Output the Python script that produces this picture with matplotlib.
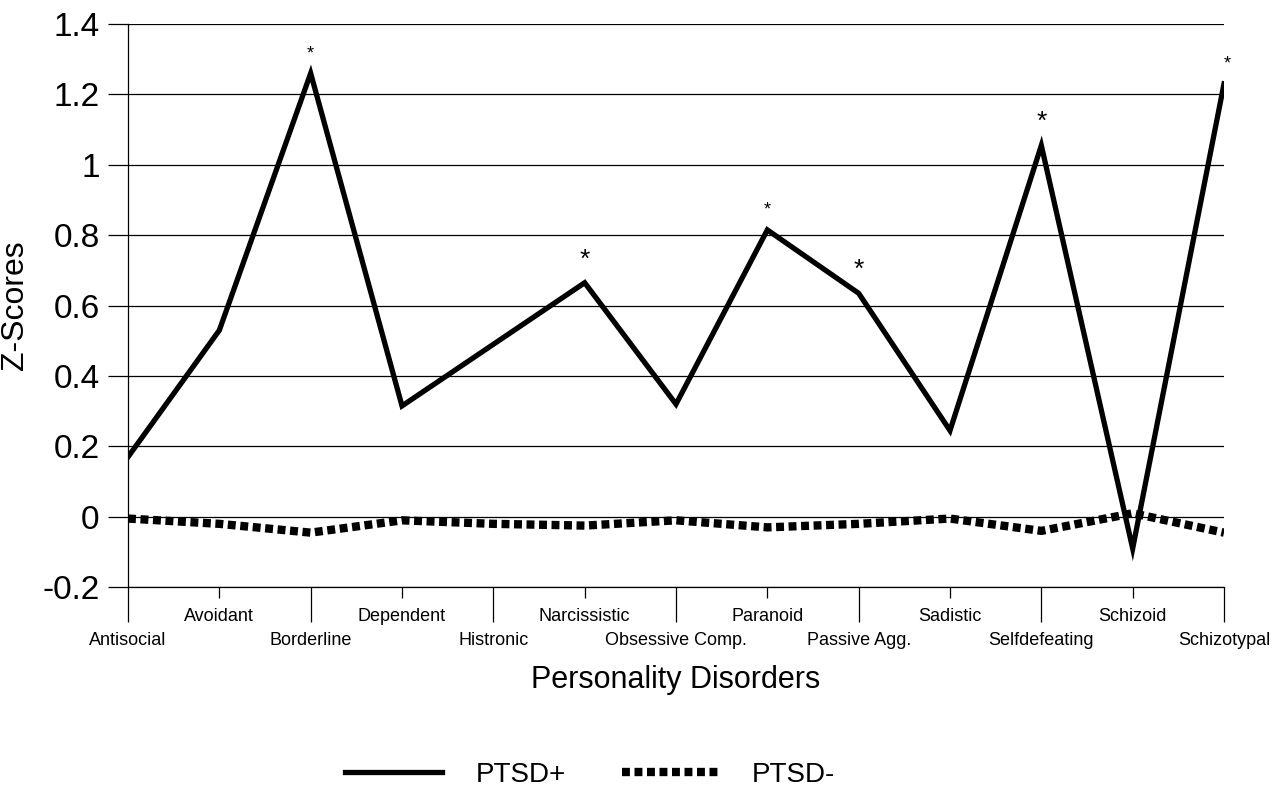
import matplotlib
matplotlib.use('Agg')
import matplotlib.pyplot as plt
from matplotlib.lines import Line2D
from matplotlib.font_manager import fontManager

# Data
disorders = ['Antisocial', 'Avoidant', 'Borderline', 'Dependent', 'Histronic',
             'Narcissistic', 'Obsessive Comp.', 'Paranoid', 'Passive Agg.',
             'Sadistic', 'Selfdefeating', 'Schizoid', 'Schizotypal']
ptsd_pos = [0.17, 0.53, 1.26, 0.315, 0.49, 0.665, 0.32, 0.815, 0.635,
            0.245, 1.055, -0.09, 1.23]
ptsd_neg = [-0.005, -0.02, -0.045, -0.01, -0.02, -0.025, -0.01, -0.03, -0.02,
            -0.005, -0.04, 0.01, -0.045]
significant = [2, 5, 7, 8, 10, 12]
star_sizes = [13, 19, 13, 19, 19, 13]
y_ticks = [-0.2, 0, 0.2, 0.4, 0.6, 0.8, 1, 1.2, 1.4]

names = {f.name for f in fontManager.ttflist}
narrow = 'Liberation Sans Narrow' if 'Liberation Sans Narrow' in names else 'Liberation Sans'
plt.rcParams['font.family'] = [narrow, 'DejaVu Sans']
plt.rcParams['axes.unicode_minus'] = False

fig = plt.figure(figsize=(12.75, 8), dpi=100)
ax = fig.add_axes([0.1004, 0.266, 0.8596, 0.704])

x = list(range(len(disorders)))
ax.plot(x, ptsd_pos, color='black', lw=3.8, solid_joinstyle='miter', zorder=3)
ax.plot(x, ptsd_neg, color='black', lw=6.0, dashes=(0.95, 0.55),
        dash_capstyle='butt', zorder=3)

for i, s in zip(significant, star_sizes):
    ax.annotate('*', (x[i], ptsd_pos[i]), xytext=(2 if i == 12 else 0, 8),
                textcoords='offset points', ha='center', va='bottom',
                fontsize=s, family='Liberation Sans')

ax.set_xlim(0, len(disorders) - 1)
ax.set_ylim(-0.2, 1.4)
ax.set_yticks(y_ticks)
ax.set_yticklabels([f'{v:g}' for v in y_ticks], fontsize=24)
ax.yaxis.grid(True, color='black', lw=0.9)
ax.tick_params(axis='y', direction='out', length=14.5, width=0.9, pad=6)

ax.set_xticks(x[0::2])
ax.set_xticklabels(disorders[0::2], fontsize=13)
ax.set_xticks(x[1::2], minor=True)
ax.set_xticklabels(disorders[1::2], minor=True, fontsize=13)
ax.tick_params(axis='x', which='major', direction='out', length=25, width=0.9, pad=7)
ax.tick_params(axis='x', which='minor', direction='out', length=8, width=0.9, pad=7)

for side in ['top', 'right']:
    ax.spines[side].set_visible(False)
ax.spines['left'].set_linewidth(0.9)
ax.spines['bottom'].set_linewidth(0.9)

ax.set_ylabel('Z-Scores', fontsize=23)
ax.yaxis.set_label_coords(-0.089, 0.5)
ax.set_xlabel('Personality Disorders', fontsize=22, labelpad=12)

handles = [Line2D([], [], color='black', lw=3.8),
           Line2D([], [], color='black', lw=6.0, dashes=(0.95, 0.55), dash_capstyle='butt')]
fig.legend(handles, ['PTSD+', 'PTSD-'], loc='center', bbox_to_anchor=(0.463, 0.031),
           ncol=2, frameon=False, fontsize=20, handlelength=3.5,
           handletextpad=1.2, columnspacing=2.0)

fig.savefig('out.png', dpi=100)
